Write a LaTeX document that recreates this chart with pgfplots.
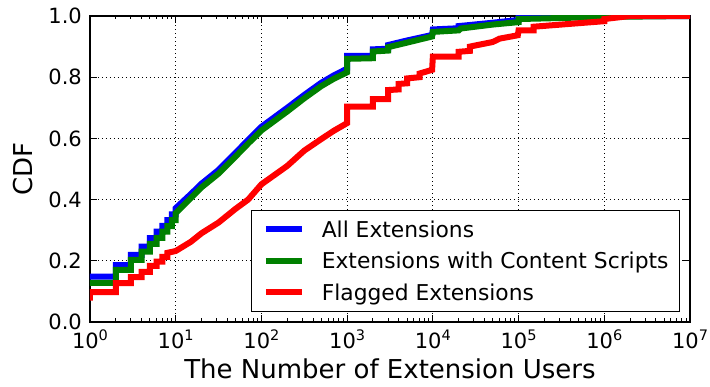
\documentclass[border=0pt]{standalone}
\usepackage{pgfplots}
\pgfplotsset{compat=1.18}
\usepackage{fontspec}
\setmainfont{DejaVu Sans}
\definecolor{mblue}{RGB}{0,0,255}
\definecolor{mgreen}{RGB}{0,128,0}
\definecolor{mred}{RGB}{255,0,0}
\newcommand\tp[1]{10\raisebox{8pt}{\fontsize{14.5}{14.5}\selectfont #1}}
\begin{document}
\begin{tikzpicture}
\begin{axis}[
  scale only axis, width=600pt, height=306pt,
  xmode=log, xmin=1, xmax=1e7, ymin=0, ymax=1,
  xtick={1,10,100,1000,10000,100000,1000000,10000000},
  xticklabels={\tp{0},\tp{1},\tp{2},\tp{3},\tp{4},\tp{5},\tp{6},\tp{7}},
  minor xtick={2,3,4,5,6,7,8,9,20,30,40,50,60,70,80,90,200,300,400,500,600,700,800,900,2000,3000,4000,5000,6000,7000,8000,9000,20000,30000,40000,50000,60000,70000,80000,90000,200000,300000,400000,500000,600000,700000,800000,900000,2000000,3000000,4000000,5000000,6000000,7000000,8000000,9000000},
  ytick={0,0.2,0.4,0.6,0.8,1.0},
  yticklabel style={/pgf/number format/fixed, /pgf/number format/precision=1, /pgf/number format/fixed zerofill, /pgf/number format/assume math mode=true, inner sep=0pt, xshift=-8pt},
  xticklabel style={inner sep=0pt, yshift=-8pt},
  tick label style={font=\fontsize{21}{25}\selectfont},
  tick align=inside, tick pos=both,
  major tick length=7pt, minor tick length=3.5pt,
  every tick/.style={black, line width=1pt},
  axis line style={black, line width=1.5pt},
  grid=major,
  major grid style={black, line width=0.8pt, dash pattern=on 1pt off 3pt},
  xlabel={The Number of Extension Users},
  ylabel={CDF},
  label style={font=\fontsize{26}{31}\selectfont, inner sep=0pt},
  xlabel style={at={(axis description cs:0.5,-0.184)}, anchor=base},
  ylabel style={at={(axis description cs:-0.095,0.5)}, anchor=base},
  legend cell align=left,
  legend image code/.code={\draw[#1, line width=6pt] (0pt,0pt) -- (36pt,0pt);},
  legend style={at={(1,0)}, anchor=south east, xshift=-10pt, yshift=10pt,
    draw=black, line width=1pt, inner xsep=11pt, inner ysep=11pt,
    row sep=15.7pt, column sep=17pt,
    font=\fontsize{21.8}{26}\selectfont,
    nodes={inner sep=0pt, text height=16pt, text depth=0pt}},
]
\addplot[mblue, line width=6pt] coordinates {
(1,0.148)(2,0.148)(2,0.186)(3,0.186)(3,0.219)(4,0.219)(4,0.246)(5,0.246)(5,0.274)(6,0.274)(6,0.295)(7,0.295)(7,0.314)(8,0.314)(8,0.333)(9,0.333)(9,0.352)(10,0.352)(10,0.372)
(15,0.418)(20,0.452)(31.6,0.497)(50,0.553)(70,0.595)(100,0.638)(200,0.700)(316,0.742)(500,0.782)(700,0.806)(1000,0.828)
(1000,0.870)(2000,0.870)(2000,0.891)(3000,0.893)(3000,0.905)(5000,0.920)(9800,0.938)(10000,0.956)(20000,0.960)(20000,0.967)(50000,0.978)(100000,0.987)(100000,0.993)(1000000,0.999)(10000000,1)
};
\addlegendentry{All Extensions}
\addplot[mgreen, line width=6pt] coordinates {
(1,0.128)(2,0.128)(2,0.170)(3,0.170)(3,0.203)(4,0.203)(4,0.230)(5,0.230)(5,0.255)(6,0.255)(6,0.275)(7,0.275)(7,0.295)(8,0.295)(8,0.313)(9,0.313)(9,0.333)(10,0.333)(10,0.356)
(15,0.405)(20,0.440)(31.6,0.485)(50,0.541)(70,0.583)(100,0.626)(200,0.688)(316,0.731)(500,0.771)(700,0.795)(1000,0.816)
(1000,0.860)(2000,0.862)(2000,0.884)(3000,0.887)(3000,0.898)(5000,0.913)(9800,0.933)(10000,0.948)(20000,0.953)(21000,0.959)(50000,0.972)(100000,0.980)(100000,0.990)(1000000,0.997)(10000000,1)
};
\addlegendentry{Extensions with Content Scripts}
\addplot[mred, line width=6pt] coordinates {
(1,0.070)(1,0.098)(2,0.098)(2,0.127)(3,0.127)(3,0.147)(4,0.147)(4,0.164)(5,0.164)(5,0.183)(6,0.183)(6,0.197)(7,0.197)(7,0.213)(8,0.213)(8,0.226)
(10,0.232)(15,0.262)(20,0.290)(31.6,0.325)(50,0.370)(70,0.400)(100,0.450)(200,0.510)(316,0.560)(500,0.598)(700,0.625)(1000,0.650)
(1000,0.704)(2000,0.704)(2000,0.728)(3000,0.728)(3000,0.758)(4000,0.760)(4000,0.778)(5000,0.780)(5000,0.796)(7000,0.800)(7000,0.812)(9800,0.824)(10000,0.867)(20000,0.867)(20000,0.883)(27000,0.886)(27000,0.900)(50000,0.915)(60000,0.926)(98000,0.937)(100000,0.953)(150000,0.953)(150000,0.965)(1000000,0.983)(1000000,0.990)(2000000,1)(10000000,1)
};
\addlegendentry{Flagged Extensions}
\end{axis}
\pgfresetboundingbox
\path (-90pt,-65pt) rectangle (620pt,322pt);
\end{tikzpicture}
\end{document}
